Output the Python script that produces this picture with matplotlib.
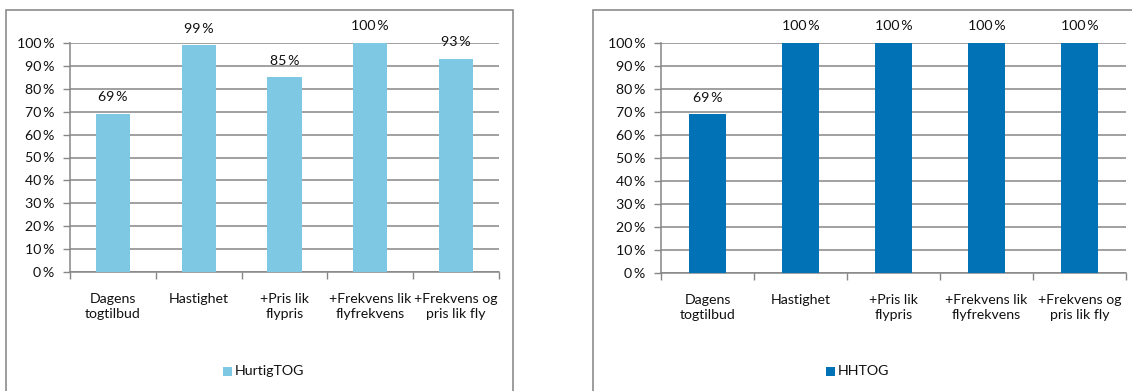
import matplotlib
matplotlib.use("Agg")
import matplotlib.pyplot as plt
from matplotlib.patches import Rectangle
import numpy as np

categories = ["Dagens\ntogtilbud", "Hastighet", "+Pris lik\nflypris",
              "+Frekvens lik\nflyfrekvens", "+Frekvens og\npris lik fly"]
hurtigtog = [69, 99, 85, 100, 93]
hhtog = [69, 100, 100, 100, 100]
yticks = [0, 10, 20, 30, 40, 50, 60, 70, 80, 90, 100]

plt.rcParams['font.family'] = ['Lato', 'DejaVu Sans']
TXT = '#111111'
GRID = '#868686'
FS = 10.2

W, H = 1132, 391
fig = plt.figure(figsize=(W / 100, H / 100), dpi=100)

# panel borders
fig.add_artist(Rectangle((6 / W, -0.05), (513 - 6) / W, 1 - 10 / H + 0.05,
                         transform=fig.transFigure, fill=False,
                         edgecolor='#8c8c8c', linewidth=1.2))
fig.add_artist(Rectangle((593 / W, -0.05), (1140 - 593) / W, 1 - 10 / H + 0.05,
                         transform=fig.transFigure, fill=False,
                         edgecolor='#8c8c8c', linewidth=1.2))


def panel(x0, x1, y0, y1, values, color, name, legend_cx):
    ax = fig.add_axes([x0 / W, 1 - y1 / H, (x1 - x0) / W, (y1 - y0) / H])
    x = np.arange(len(categories))
    ax.bar(x, values, width=0.4, color=color, zorder=3)
    ax.set_xlim(-0.5, len(categories) - 0.5)
    ax.set_ylim(0, 100)
    ax.set_yticks(yticks)
    ax.set_yticklabels([f"{v}\u2009%" for v in yticks], fontsize=FS, color=TXT)
    ax.yaxis.grid(True, color=GRID, linewidth=1.1, zorder=0)
    ax.set_axisbelow(True)
    ax.tick_params(axis='y', length=5, width=1, color=GRID, pad=6)
    ax.set_xticks(x)
    ax.set_xticklabels(categories, fontsize=FS, color=TXT, linespacing=1.35)
    ax.set_xticks(np.arange(-0.5, len(categories)), minor=True)
    ax.tick_params(axis='x', which='major', length=0, pad=15)
    ax.tick_params(axis='x', which='minor', length=5, width=1, color=GRID)
    for s in ['top', 'right']:
        ax.spines[s].set_visible(False)
    for s in ['left', 'bottom']:
        ax.spines[s].set_color(GRID)
        ax.spines[s].set_linewidth(1.1)
    for xi, v in zip(x, values):
        ax.annotate(f"{v}\u2009%", (xi, v), xytext=(0, 12), textcoords='offset points',
                    ha='center', va='center', fontsize=FS, color=TXT)
    # legend
    fig.patches.append(Rectangle(((legend_cx - 39) / W, 1 - 376 / H), 9 / W, 9 / H,
                                 transform=fig.transFigure, facecolor=color,
                                 edgecolor='none'))
    fig.text((legend_cx - 27) / W, 1 - 371 / H, name, fontsize=FS, color=TXT,
             ha='left', va='center')
    return ax


panel(70, 499, 43, 272, hurtigtog, '#7ec8e4', 'HurtigTOG', 262)
panel(661, 1126, 43, 273, hhtog, '#0072b5', 'HHTOG', 865)

fig.savefig("out.png", dpi=100, facecolor='white')
